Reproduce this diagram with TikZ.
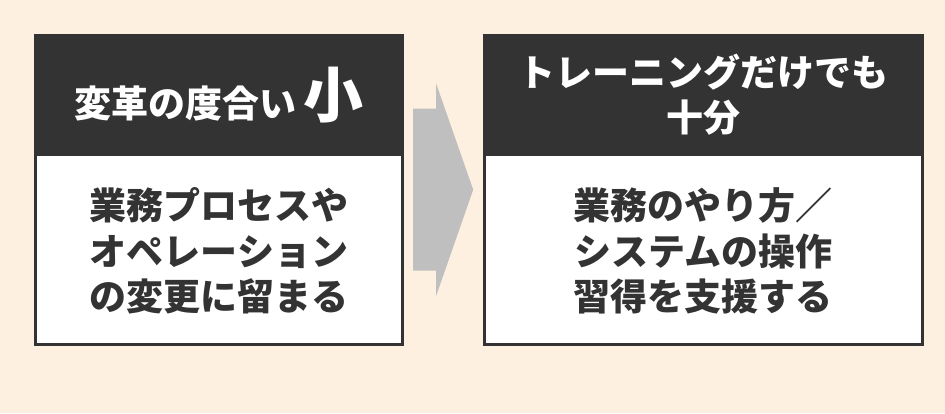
\documentclass[tikz,border=0pt]{standalone}
\usepackage{fontspec}
\setmainfont{Noto Sans CJK JP}
\usepackage{tikz}
\usetikzlibrary{positioning, calc}
\definecolor{cream}{HTML}{FDF0E0}
\definecolor{ink}{HTML}{333333}
\definecolor{arrowgray}{HTML}{BFBFBF}
\tikzset{
x=1pt, y=-1pt, % one unit is one pixel of the reference, y runs down
node distance=0pt, % boxes are stacked without gaps
head/.style={fill=ink, text=white, inner sep=0pt, align=center, font=\bfseries\fontsize{37}{45}\selectfont}, % dark title bar
body/.style={fill=white, text=ink, inner sep=0pt, align=center, font=\bfseries\fontsize{37}{45.5}\selectfont}, % white body part
frame/.style={draw=ink, line width=3pt}, % border round a whole box
}

\begin{document}
\begin{tikzpicture}
  \useasboundingbox[fill=cream] (0,0) rectangle (945,413);

  \node[head, minimum width=370pt, minimum height=122pt] (lefthead) at (219,95) {変革の度合い\,{\fontsize{60}{60}\selectfont 小}};
  \node[body, minimum width=370pt, minimum height=189pt, below=of lefthead] (leftbody) {業務プロセスや\\オペレーション\\の変更に留まる};

  \node[head, minimum width=440pt, minimum height=122pt, right=79pt of lefthead] (righthead) {トレーニングだけでも\\十分};
  \node[body, minimum width=440pt, minimum height=189pt, below=of righthead] (rightbody) {業務のやり方／\\システムの操作\\習得を支援する};

  \draw[frame] ([shift={(1.5pt,-1.5pt)}]lefthead.north west) rectangle ([shift={(-1.5pt,1.5pt)}]leftbody.south east);
  \draw[frame] ([shift={(1.5pt,-1.5pt)}]righthead.north west) rectangle ([shift={(-1.5pt,1.5pt)}]rightbody.south east);

  % block arrow between the two boxes
  \coordinate (arrowmid) at ($(lefthead.north east)!0.5!(leftbody.south east)$);
  \fill[arrowgray] ($(arrowmid)+(9pt,81pt)$) -- ($(arrowmid)+(32pt,81pt)$) -- ($(arrowmid)+(32pt,106pt)$)
    -- ($(arrowmid)+(69pt,0pt)$) -- ($(arrowmid)+(32pt,-106pt)$) -- ($(arrowmid)+(32pt,-81pt)$)
    -- ($(arrowmid)+(9pt,-81pt)$) -- cycle;
\end{tikzpicture}
\end{document}
